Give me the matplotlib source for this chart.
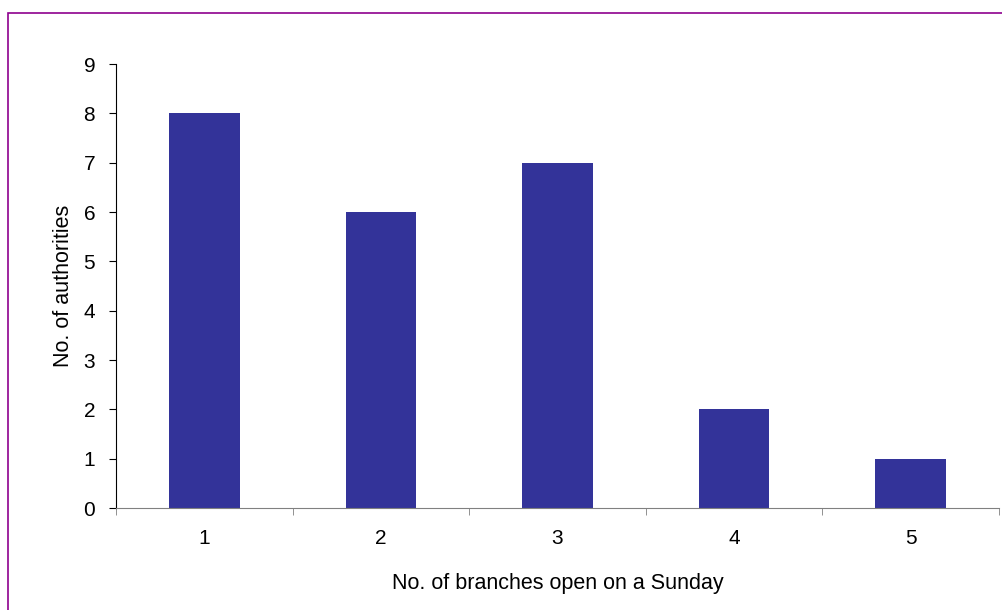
import matplotlib
matplotlib.use("Agg")
import matplotlib.pyplot as plt
from matplotlib.patches import Rectangle

# data
branches = [1, 2, 3, 4, 5]
authorities = [8, 6, 7, 2, 1]
y_ticks = list(range(0, 10))

plt.rcParams['font.family'] = ['Liberation Sans', 'DejaVu Sans']

W, H = 1003, 610
fig = plt.figure(figsize=(W / 100, H / 100), dpi=100)
ax = fig.add_axes([116 / W, 1 - 508 / H, (999 - 116) / W, (508 - 64) / H])

ax.bar(branches, authorities, width=0.4, color='#333399')

ax.set_xlim(0.5, 5.5)
ax.set_ylim(0, 9)
ax.set_yticks(y_ticks)
ax.set_xticks(branches)
ax.set_xticks([0.5 + i for i in range(6)], minor=True)
ax.tick_params(axis='x', which='major', length=0, pad=15, labelsize=15)
ax.tick_params(axis='x', which='minor', length=5, direction='out', color='#808080')
ax.tick_params(axis='y', length=5, direction='out', pad=10, labelsize=15)

for side in ('top', 'right'):
    ax.spines[side].set_visible(False)
ax.spines['bottom'].set_color('#808080')
ax.spines['left'].set_color('black')

ax.set_xlabel('No. of branches open on a Sunday', fontsize=15.5, labelpad=18)
ax.set_ylabel('No. of authorities', fontsize=15.5, labelpad=7)

# purple outer frame
fig.patches.append(Rectangle((8 / W, -0.05), 1.1, 1 - 13 / H + 0.05, transform=fig.transFigure,
                             fill=False, edgecolor='#8e008e', linewidth=1.2, clip_on=False))

fig.savefig('out.png', dpi=100)
